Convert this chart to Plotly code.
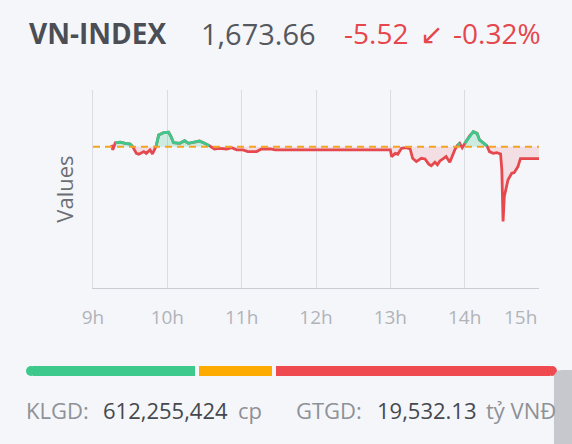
import numpy as np
import pandas as pd
import plotly.graph_objects as go

TRADE_DATE = "2025-01-02"

# intraday points (time, index value)
TIMES = [
    "09:15", "09:16", "09:18", "09:22", "09:26", "09:30", "09:32", "09:35",
    "09:37", "09:41", "09:43", "09:46", "09:48", "09:50", "09:51", "09:53",
    "09:57", "10:01", "10:03", "10:05", "10:10", "10:14", "10:17", "10:24",
    "10:26", "10:30", "10:34", "10:38", "10:42", "10:48", "10:52", "10:56",
    "11:01", "11:05", "11:12", "11:16", "11:23", "11:27", "11:30",
    "13:00", "13:01", "13:04", "13:06", "13:09", "13:13", "13:16", "13:18",
    "13:21", "13:23", "13:25", "13:28", "13:31", "13:33", "13:36", "13:38",
    "13:40", "13:43", "13:45", "13:48", "13:50", "13:52", "13:54", "13:56",
    "13:58", "14:00", "14:02", "14:04", "14:07", "14:08", "14:10", "14:12",
    "14:15", "14:18", "14:20", "14:23", "14:26", "14:28", "14:29", "14:30",
    "14:31", "14:32", "14:35", "14:38", "14:40", "14:43", "14:45", "15:00",
]
VALUES = [
    1680.0, 1677.7, 1681.0, 1681.3, 1680.7, 1680.4, 1679.2, 1676.1,
    1675.7, 1676.9, 1676.1, 1677.7, 1675.8, 1678.0, 1679.5, 1684.6,
    1685.6, 1685.8, 1683.8, 1681.0, 1680.7, 1681.9, 1680.7, 1681.5,
    1681.8, 1680.7, 1679.6, 1678.1, 1678.4, 1678.1, 1678.7, 1677.7,
    1677.7, 1676.9, 1676.9, 1678.1, 1678.1, 1677.7, 1677.7,
    1677.7, 1674.6, 1676.1, 1675.7, 1678.4, 1678.7, 1678.1, 1673.8,
    1672.3, 1673.1, 1673.8, 1673.5, 1671.1, 1670.4, 1672.0, 1670.8,
    1672.6, 1673.8, 1674.6, 1672.0, 1675.0, 1677.7, 1679.6, 1680.7,
    1678.7, 1680.7, 1682.3, 1684.2, 1686.1, 1685.8, 1685.3, 1682.3,
    1681.0, 1679.5, 1676.9, 1676.1, 1676.4, 1676.1, 1675.8, 1668.5,
    1644.7, 1656.2, 1663.9, 1666.9, 1667.2, 1670.0, 1673.66, 1673.66,
]

PREV_CLOSE = 1679.18
LAST = 1673.66
CHANGE = -5.52
CHANGE_PCT = -0.32

TICK_HOURS = [9, 10, 11, 12, 13, 14, 15]
TICK_LABELS = ["9h", "10h", "11h", "12h", "13h", "14h", "15h"]

# advancers / unchanged / decliners
BREADTH_COUNTS = [124, 58, 208]
BREADTH_COLORS = ["#3cc98b", "#fdab00", "#ef4a4f"]

KLGD = 612255424
GTGD = 19532.13

BG = "#f5f6fa"
FONT = "Open Sans"
RED = "#e4474c"


def ts(hhmm):
    return pd.Timestamp(f"{TRADE_DATE} {hhmm}")


x = [ts(t) for t in TIMES]
v = np.array(VALUES)
ref = np.full(len(v), PREV_CLOSE)
upper = np.maximum(v, PREV_CLOSE)
lower = np.minimum(v, PREV_CLOSE)
green_only = np.where(v >= PREV_CLOSE, v, np.nan)

fig = go.Figure()

# shaded areas vs previous close
fig.add_trace(go.Scatter(x=x, y=ref, mode="lines", line=dict(width=0), hoverinfo="skip", showlegend=False))
fig.add_trace(go.Scatter(x=x, y=upper, mode="lines", line=dict(width=0), fill="tonexty",
                         fillcolor="rgba(60,201,139,0.22)", hoverinfo="skip", showlegend=False))
fig.add_trace(go.Scatter(x=x, y=ref, mode="lines", line=dict(width=0), hoverinfo="skip", showlegend=False))
fig.add_trace(go.Scatter(x=x, y=lower, mode="lines", line=dict(width=0), fill="tonexty",
                         fillcolor="rgba(229,72,77,0.13)", hoverinfo="skip", showlegend=False))

# price line: red everywhere, green where above reference
fig.add_trace(go.Scatter(x=x, y=v, mode="lines", line=dict(color="#e5484d", width=2.8), showlegend=False))
fig.add_trace(go.Scatter(x=x, y=green_only, mode="lines", line=dict(color="#3cc98b", width=2.8), showlegend=False))

fig.add_hline(y=PREV_CLOSE, line=dict(color="#f4a422", width=2, dash="7px,5px"))

# market breadth bar
total = sum(BREADTH_COUNTS)
for cnt, col in zip(BREADTH_COUNTS, BREADTH_COLORS):
    fig.add_trace(go.Bar(x=[cnt], y=[0], orientation="h", width=1, xaxis="x2", yaxis="y2",
                         marker=dict(color=col, line=dict(color=BG, width=4)),
                         hoverinfo="skip", showlegend=False))
fig.add_trace(go.Scatter(x=[0], y=[0], mode="markers", xaxis="x2", yaxis="y2", cliponaxis=False,
                         marker=dict(color=BREADTH_COLORS[0], size=10), hoverinfo="skip", showlegend=False))
fig.add_trace(go.Scatter(x=[total], y=[0], mode="markers", xaxis="x2", yaxis="y2", cliponaxis=False,
                         marker=dict(color=BREADTH_COLORS[2], size=10), hoverinfo="skip", showlegend=False))

tickvals = [ts(f"{h:02d}:00") for h in TICK_HOURS]

fig.update_layout(
    width=572, height=444,
    margin=dict(l=0, r=0, t=0, b=0, autoexpand=False),
    paper_bgcolor=BG, plot_bgcolor=BG,
    font=dict(family=FONT),
    barmode="stack",
    xaxis=dict(
        domain=[93 / 572, 539 / 572], range=[tickvals[0], tickvals[-1]],
        tickvals=tickvals, ticktext=TICK_LABELS[:-1] + [""],
        showgrid=True, gridcolor="#d9dce1", gridwidth=1,
        showline=True, linecolor="#c9cdd3", linewidth=1,
        ticks="", ticklabelstandoff=12, automargin=False,
        tickfont=dict(size=19, color="#b0b3b8", family=FONT),
        zeroline=False, fixedrange=True,
    ),
    yaxis=dict(
        domain=[(444 - 288) / 444, (444 - 90) / 444], range=[1614.0, 1705.3],
        showgrid=False, showticklabels=False, zeroline=False, automargin=False,
        showline=True, linecolor="#d9dce1", linewidth=1,
        title=dict(text="Values", standoff=12, font=dict(size=22, color="#6b6e73", family=FONT)),
        fixedrange=True,
    ),
    xaxis2=dict(domain=[31 / 572, 552 / 572], range=[0, total], anchor="y2",
                visible=False, fixedrange=True),
    yaxis2=dict(domain=[(444 - 378) / 444, (444 - 364) / 444], range=[-0.5, 0.5], anchor="x2",
                visible=False, fixedrange=True),
)

# last x tick label sits inside the plot edge
fig.add_annotation(x=tickvals[-1], xref="x", y=(444 - 317) / 444, yref="paper",
                   text=TICK_LABELS[-1], showarrow=False, xanchor="right", yanchor="middle",
                   font=dict(size=19, color="#b0b3b8", family=FONT))

# header
head_y = (444 - 33) / 444
header = [
    (27, "<b>VN-INDEX</b>", "#4b4e54", 28),
    (199, f"{LAST:,.2f}", "#55585e", 29),
    (342, f"{CHANGE:.2f}", RED, 28),
    (418, "↙", RED, 28),
    (451, f"{CHANGE_PCT:.2f}%", RED, 28),
]
for px, txt, col, size in header:
    fig.add_annotation(x=px / 572, y=head_y, xref="paper", yref="paper", text=txt,
                       showarrow=False, xanchor="left", yanchor="middle",
                       font=dict(size=size, color=col, family=FONT))

# footer stats
foot_y = (444 - 410) / 444
footer = [
    (24, "KLGD:", "#8e9197"),
    (101, f"{KLGD:,}", "#45484d"),
    (236, "cp", "#8e9197"),
    (294, "GTGD:", "#8e9197"),
    (375, f"{GTGD:,.2f}", "#45484d"),
    (484, "tỷ VNĐ", "#8e9197"),
]
for px, txt, col in footer:
    fig.add_annotation(x=px / 572, y=foot_y, xref="paper", yref="paper", text=txt,
                       showarrow=False, xanchor="left", yanchor="middle",
                       font=dict(size=22, color=col, family=FONT))

# browser scrollbar thumb at right edge
fig.add_shape(type="path", xref="paper", yref="paper", layer="above",
              path="M 0.9685,0 L 0.9685,0.1486 Q 0.9685,0.1667 0.9825,0.1667 L 1,0.1667 L 1,0 Z",
              fillcolor="rgba(190,191,196,0.85)", line=dict(width=0))

fig.write_html("out.html", config={"displayModeBar": False},
               post_script="document.body.style.margin = '0';")
